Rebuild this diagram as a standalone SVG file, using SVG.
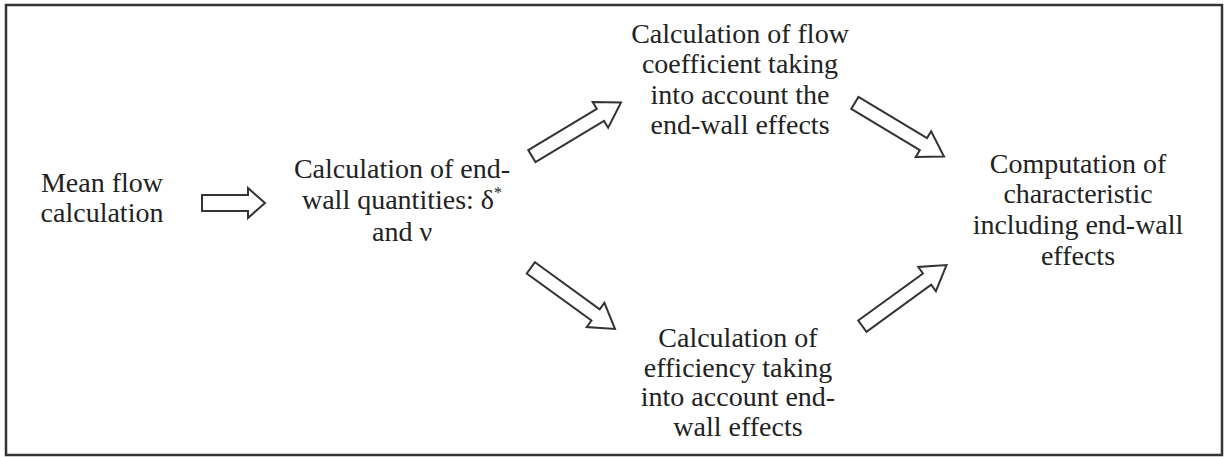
<svg xmlns="http://www.w3.org/2000/svg" width="1230" height="457" viewBox="0 0 1230 457">
  <style>
    .t { font-family: "Liberation Serif", "Times New Roman", serif; font-size: 28px; fill: #222; text-anchor: middle; }
    .arrow { fill: #fff; stroke: #333; stroke-width: 2; stroke-linejoin: miter; }
    .frame { fill: #fff; stroke: #333; stroke-width: 2.5; }
  </style>
  <defs>
    <polygon id="diag" points="-104,-7 -24,-7 -24,-15 0,0 -24,15 -24,7 -104,7"/>
  </defs>
  <rect class="frame" x="6" y="5" width="1216" height="450"/>

  <g id="connectors">
    <polygon class="arrow" transform="translate(265,203)" points="-63,-8 -17,-8 -17,-15 0,0 -17,15 -17,8 -63,8"/>
    <use href="#diag" class="arrow" transform="translate(621,102.5) rotate(-31)"/>
    <use href="#diag" class="arrow" transform="translate(944,156.5) rotate(31)"/>
    <use href="#diag" class="arrow" transform="translate(615,329) rotate(36)"/>
    <use href="#diag" class="arrow" transform="translate(946.5,265) rotate(-36)"/>
  </g>

  <g id="node-mean-flow">
    <text class="t" x="102" y="192">Mean flow</text>
    <text class="t" x="102" y="222">calculation</text>
  </g>

  <g id="node-end-wall">
    <text class="t" x="402" y="178">Calculation of end-</text>
    <text class="t" x="402" y="209">wall quantities: δ<tspan font-size="16" dy="-11">*</tspan></text>
    <text class="t" x="402" y="241">and ν</text>
  </g>

  <g id="node-flow-coefficient">
    <text class="t" x="740" y="43">Calculation of flow</text>
    <text class="t" x="740" y="73">coefficient taking</text>
    <text class="t" x="740" y="104">into account the</text>
    <text class="t" x="740" y="134">end-wall effects</text>
  </g>

  <g id="node-efficiency">
    <text class="t" x="738" y="347">Calculation of</text>
    <text class="t" x="738" y="377">efficiency taking</text>
    <text class="t" x="738" y="406">into account end-</text>
    <text class="t" x="738" y="436">wall effects</text>
  </g>

  <g id="node-characteristic">
    <text class="t" x="1078" y="173">Computation of</text>
    <text class="t" x="1078" y="203">characteristic</text>
    <text class="t" x="1078" y="234">including end-wall</text>
    <text class="t" x="1078" y="265">effects</text>
  </g>
</svg>
